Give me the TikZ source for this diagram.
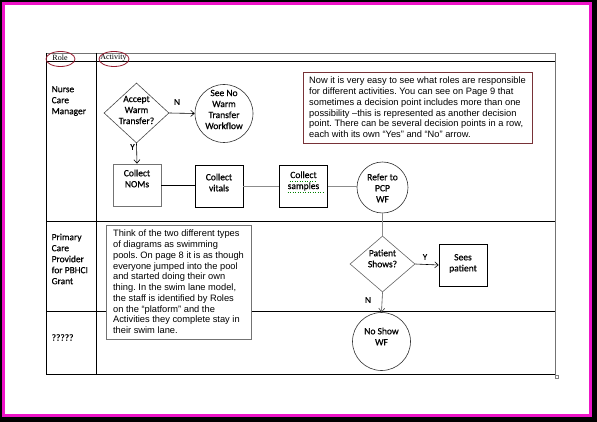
\documentclass[tikz,border=0pt]{standalone}
\usepackage{fontspec}
\setmainfont{Liberation Sans}
\newfontfamily\flowfont[FakeBold=0.6]{Carlito}
\newfontfamily\hdrfont{Liberation Serif}
\usetikzlibrary{shapes.geometric,arrows.meta,shadows}
\definecolor{framepink}{RGB}{238,20,200}
\definecolor{boxred}{RGB}{120,50,55}
\definecolor{shadred}{RGB}{150,60,70}
\definecolor{lightred}{RGB}{215,150,155}
\definecolor{ellred}{RGB}{150,30,50}
\tikzset{
  lane/.style={line width=0.8pt, black},
  thinlane/.style={line width=0.6pt, black!55},
  flowtxt/.style={font=\flowfont\fontsize{9.5}{11}\selectfont, align=center, inner sep=0pt},
  roletxt/.style={font=\flowfont\fontsize{9.4}{11}\selectfont, align=left, inner sep=0pt, anchor=west},
  lbl/.style={font=\flowfont\fontsize{9}{10}\selectfont, inner sep=0pt},
  dia/.style={diamond, draw=black!70, line width=0.6pt, minimum width=65pt, minimum height=58pt, inner sep=0pt},
  circ/.style={circle, draw=black!80, line width=0.6pt, inner sep=0pt},
  procbox/.style={rectangle, draw=black, line width=0.7pt, minimum width=48pt, minimum height=42pt, inner sep=0pt},
  arr/.style={-{Straight Barb[length=3.5pt,width=6pt]}, line width=0.6pt, black},
  conn/.style={line width=0.7pt, black!45},
  note/.style={rectangle, font=\frenchspacing\fontsize{9.3}{10.75}\selectfont, align=left, inner xsep=5pt, inner ysep=3pt, fill=white},
  hdr/.style={font=\hdrfont\fontsize{8}{9}\selectfont, inner sep=0pt},
}
\begin{document}
\begin{tikzpicture}[x=1pt,y=-1pt]
\useasboundingbox (0,0) rectangle (597,422);
% frame
\fill[black] (0,0) rectangle (597,422);
\fill[framepink] (2,2) rectangle (592,417);
\fill[white] (5,5) rectangle (589,414);
% table
\draw[thinlane] (46,53) -- (555,53);
\draw[lane] (46,61.5) -- (555,61.5);
\draw[lane] (46,53) -- (46,374);
\draw[lane] (96,53) -- (96,374);
\draw[thinlane] (555,53) -- (555,376);
\draw[lane] (46,374) -- (555,374);
\draw[lane] (46,221) -- (555,221);
\draw[lane,line width=0.6pt] (46,311) -- (555,311);
\draw[black!50, line width=0.4pt] (555,375) rectangle (558.5,378.5);
% header
\node[hdr] (role) at (60,57.5) {Role};
\node[hdr] (act) at (113.5,57.5) {Activity};
\draw[ellred, line width=0.8pt] (60.5,59) ellipse [x radius=14.5pt, y radius=7.5pt];
\draw[ellred, line width=0.8pt] (114,59) ellipse [x radius=15pt, y radius=7.5pt];
% roles
\node[roletxt] (r1) at (51.5,101) {Nurse\\Care\\Manager};
\node[roletxt] (r2) at (51.5,259) {Primary\\Care\\Provider\\for PBHCI\\Grant};
\node[roletxt] (r3) at (51.5,337.5) {?????};
% notes
\node[note, draw=boxred, line width=0.6pt, minimum width=229pt, minimum height=71pt,
      drop shadow={shadow xshift=1.2pt, shadow yshift=-1.2pt, fill=shadred, opacity=1}] (n1) at (417.5,107.5)
 {Now it is very easy to see what roles are responsible\\
  for different activities. You can see on Page 9 that\\
  sometimes a decision point includes more than one\\
  possibility –this is represented as another decision\\
  point. There can be several decision points in a row,\\
  each with its own “Yes” and “No” arrow.};
\node[note, draw=black!55, line width=0.6pt, minimum width=145pt, minimum height=114pt,
      drop shadow={shadow xshift=1pt, shadow yshift=-1pt, fill=lightred, opacity=1}] (n2) at (178.5,282)
 {Think of the two different types\\
  of diagrams as swimming\\
  pools. On page 8 it is as though\\
  everyone jumped into the pool\\
  and started doing their own\\
  thing. In the swim lane model,\\
  the staff is identified by Roles\\
  on the “platform” and the\\
  Activities they complete stay in\\
  their swim lane.};
% flow shapes
\node[dia, minimum height=60pt] (d1) at (136.5,113) {};
\node[flowtxt] (d1t) at (136.5,110) {Accept\\Warm\\Transfer?};
\node[circ, minimum size=58pt] (c1) at (224,113.5) {};
\node[flowtxt] (c1t) at (224,109.5) {See No\\Warm\\Transfer\\Workflow};
\node[procbox, draw=black!55] (nom) at (137,185) {};
\node[flowtxt] (nomt) at (137,178.5) {Collect\\NOMs};
\node[procbox] (vit) at (219,186) {};
\node[flowtxt] (vitt) at (219,182.5) {Collect\\vitals};
\node[procbox] (samp) at (303.5,186) {};
\node[flowtxt] (sampt) at (303.5,181) {Collect\\samples};
\draw[green!50!black, line width=0.5pt, dotted] (sampt.north west) ++(2,10.5) -- ++(27,0);
\draw[green!50!black, line width=0.5pt, dotted] (sampt.south west) ++(0,1.5) -- ++(36,0);
\node[circ, minimum size=51pt] (ref) at (382.5,187.5) {};
\node[flowtxt] (reft) at (382.5,188) {Refer to\\PCP\\WF};
\node[dia, minimum height=56pt, draw=black!60] (d2) at (382.5,264) {};
\node[flowtxt] (d2t) at (382.5,258.5) {Patient\\Shows?};
\node[procbox] (sees) at (463,265) {};
\node[flowtxt] (seest) at (463,263.5) {Sees\\patient};
\node[circ, minimum size=58pt] (ns) at (381.5,341.5) {};
\node[flowtxt] (nst) at (381.5,336.5) {No Show\\WF};
% connectors
\draw[arr] (d1.east) -- (c1.west);
\node[lbl] (lN1) at (177,102) {N};
\draw[arr] (d1.south) -- (nom.north);
\node[lbl] (lY1) at (132.5,147) {Y};
\draw[line width=0.7pt] (nom.east) -- (nom.east -| vit.west);
\draw[conn] (vit.east) -- (samp.west);
\draw[conn] (samp.east) -- (samp.east -| ref.west);
\draw[conn] (ref.south) -- (d2.north);
\draw[arr] (d2.east) -- (sees.west);
\node[lbl] (lY2) at (425,257) {Y};
\draw[arr, black!70] (d2.south) -- (ns.north);
\node[lbl] (lN2) at (368,300) {N};
\end{tikzpicture}
\end{document}
